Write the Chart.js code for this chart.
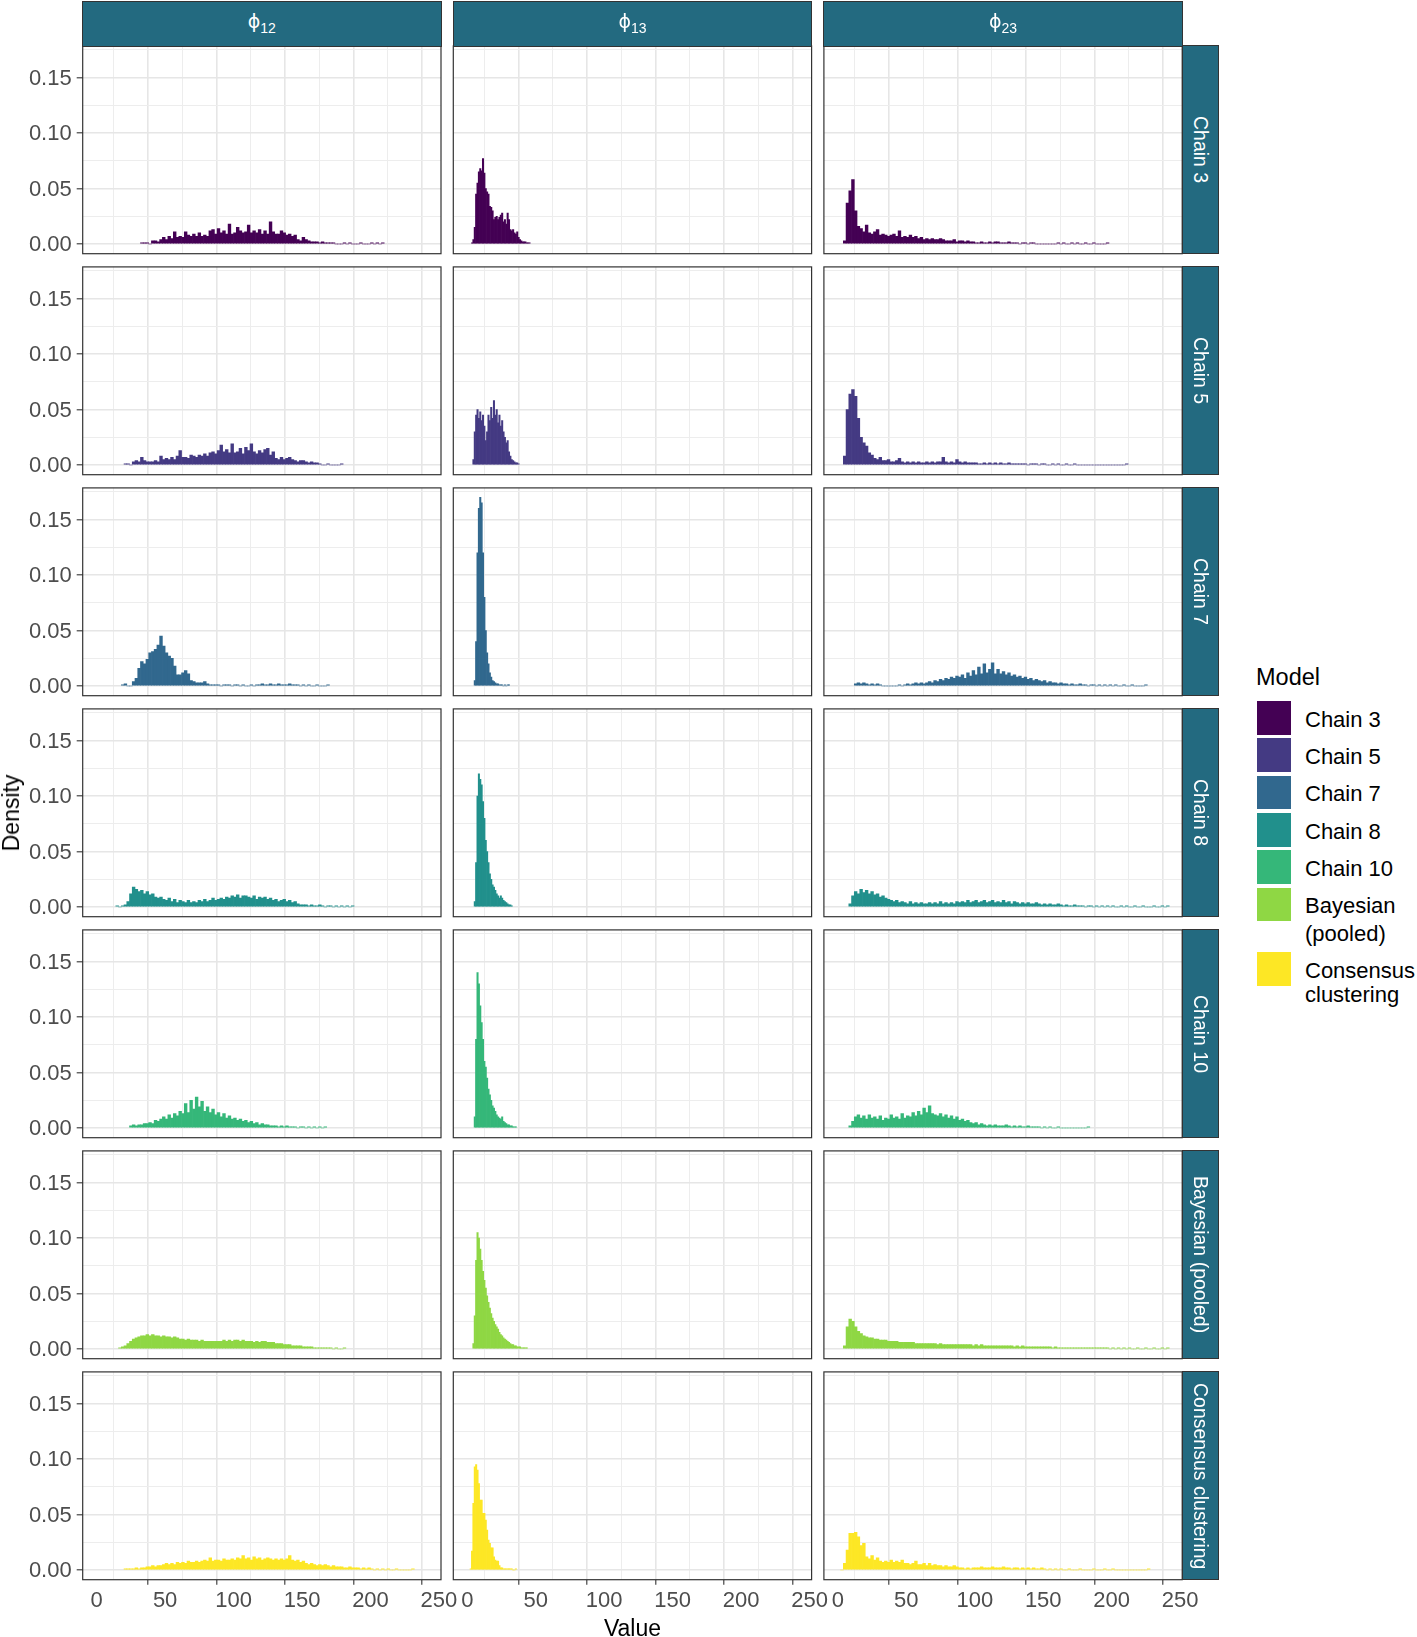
<!DOCTYPE html>
<html><head><meta charset="utf-8">
<script src="https://cdn.jsdelivr.net/npm/chart.js@4.4.1/dist/chart.umd.min.js"></script>
<style>
html,body{margin:0;padding:0;background:#fff;}
body{width:1417px;height:1637px;position:relative;overflow:hidden;font-family:"Liberation Sans",Arial,sans-serif;}
canvas{position:absolute;}
.strip{position:absolute;box-sizing:border-box;background:#236A80;border:1px solid #333;color:#fff;display:flex;align-items:center;justify-content:center;}
.stripTop .phi{font-family:"DejaVu Sans",sans-serif;font-size:19px;line-height:1;position:relative;top:-2px;}
.stripTop .sub{font-size:14px;position:relative;top:4px;margin-left:0px;}
.stripRight span{writing-mode:vertical-rl;font-size:19.5px;white-space:nowrap;}
.lab{position:absolute;white-space:nowrap;color:#000;}
.key{position:absolute;width:33.5px;height:33.5px;}
</style></head>
<body>
<script>
// ---------------- data ----------------
const models = ['Chain 3','Chain 5','Chain 7','Chain 8','Chain 10','Bayesian (pooled)','Consensus clustering'];
const legendLines = [['Chain 3'],['Chain 5'],['Chain 7'],['Chain 8'],['Chain 10'],['Bayesian','(pooled)'],['Consensus','clustering']];
const parameterSubscripts = ['12','13','23'];
const modelColors = ['#440154','#443A83','#31688E','#21908C','#35B779','#8FD744','#FDE725'];
const xMajorTicks = [0,50,100,150,200,250];
const xMinorTicks = [25,75,125,175,225];
const xTickLabels = ['0','50','100','150','200','250'];
const yMajorTicks = [0,0.05,0.10,0.15];
const yMinorTicks = [0.025,0.075,0.125,0.175];
const yTickLabels = ['0.00','0.05','0.10','0.15'];
// histogram bin width per parameter column (phi12, phi13, phi23)
const binWidth = [2,1,2];
// left edge of the first bin of every histogram [model][parameter]
const firstBin = [
  [32,3,4],[20,4,4],[18,5,12],[14,5,8],[24,5,8],[16,4,4],[20,2,2]
];
// densities per bin, in thousandths
const chain3Phi12 = [1,1,1,0,3,3,2,4,6,4,7,5,11,6,7,6,11,8,7,9,7,10,7,8,7,12,13,9,14,10,12,9,18,9,10,15,12,10,11,17,10,12,10,13,9,12,9,20,11,9,9,12,10,8,9,7,8,4,3,6,4,3,2,2,2,1,2,1,1,1,1,0,0,0,1,0,1,0,0,0,1,0,0,0,1,0,1,0,1];
const chain3Phi13 = [1,4,15,45,55,65,68,66,77,64,50,47,45,34,33,30,22,24,25,22,24,26,28,20,22,18,28,22,13,12,13,10,9,11,6,4,3,2,2,2,1,1,1];
const chain3Phi23 = [3,37,48,58,30,16,14,11,17,10,9,11,13,8,9,8,7,8,9,7,12,6,7,6,8,6,7,5,6,4,5,4,5,4,4,5,4,3,3,3,4,2,3,3,2,3,2,2,1,1,2,1,1,2,1,2,2,1,1,1,2,1,1,1,0,1,1,0,1,1,0,0,0,0,0,0,0,0,1,0,1,0,0,1,0,1,0,0,1,0,0,1,0,0,0,0,1];
const chain5Phi12 = [1,1,0,3,4,3,7,4,3,3,3,4,3,8,5,6,5,7,5,8,13,7,7,6,9,8,7,9,8,10,8,11,12,10,13,18,12,14,11,19,11,12,15,10,16,13,19,12,10,13,11,14,15,9,12,6,5,7,5,6,7,5,4,3,4,4,3,2,3,2,2,1,0,0,1,0,0,0,0,1];
const chain5Phi13 = [5,30,45,50,42,48,40,45,35,22,30,45,40,52,42,58,45,50,38,45,35,40,30,25,20,22,12,8,5,4,3,2,2,1];
const chain5Phi23 = [8,50,64,68,62,42,25,20,17,11,9,6,5,7,4,4,5,3,3,4,6,3,2,3,2,3,2,3,2,2,3,2,3,2,3,3,7,3,2,3,2,5,3,2,3,2,2,2,2,1,1,2,1,2,1,2,1,2,1,1,2,1,1,1,1,1,1,0,1,1,1,0,1,1,0,0,1,0,1,0,0,1,0,0,1,0,0,0,0,0,0,0,0,0,0,0,0,0,0,0,0,0,0,1];
const chain7Phi12 = [1,2,0,0,4,7,16,22,20,24,30,31,33,37,45,36,30,27,25,18,10,10,12,14,11,5,4,3,3,3,4,2,1,1,1,1,0,1,1,1,0,1,1,0,1,0,0,1,0,1,1,2,1,1,2,1,1,2,1,1,1,2,1,1,1,0,1,0,1,0,0,1,0,0,0,1];
const chain7Phi13 = [5,40,120,160,170,165,120,80,50,30,20,12,8,5,4,3,2,2,1,1,1,0,1,0,1,1];
const chain7Phi23 = [2,3,2,3,2,1,2,1,2,1,0,0,0,0,0,0,1,0,1,2,1,2,3,2,3,2,3,4,3,5,4,6,5,7,6,8,7,9,8,10,7,12,9,14,10,17,11,20,12,15,21,11,15,11,13,10,12,9,10,8,9,7,8,6,7,5,6,5,4,5,3,4,3,3,2,3,2,2,1,2,1,1,2,1,1,0,1,1,0,1,0,1,0,1,0,1,0,0,1,0,0,1,0,0,0,0,1];
const chain8Phi12 = [1,0,1,2,5,12,18,16,14,15,12,14,11,12,9,8,9,7,6,8,5,7,4,6,5,4,6,4,5,4,6,5,7,5,6,8,6,7,8,7,9,8,10,9,11,8,10,10,9,8,10,7,9,8,9,7,8,6,7,5,6,7,5,6,4,5,3,2,2,2,1,2,1,1,2,1,0,1,1,0,1,0,1,0,1,0,1];
const chain8Phi13 = [5,40,100,120,115,110,95,80,60,50,40,30,25,20,18,15,12,10,8,10,8,6,5,4,3,2,2,1];
const chain8Phi23 = [3,10,14,12,16,13,15,12,14,11,12,9,10,8,7,6,5,6,4,5,4,3,5,3,4,3,4,3,3,4,3,4,3,5,3,4,3,4,3,5,4,5,4,6,4,5,6,4,5,6,4,5,6,4,5,4,6,4,5,3,5,4,3,4,3,4,3,3,4,3,2,3,2,3,2,2,3,2,1,2,1,1,2,1,1,1,0,1,1,0,1,0,1,0,1,0,1,0,0,1,0,1,0,0,1,0,0,1,0,0,0,1,0,0,1,0,1];
const chain10Phi12 = [2,3,2,3,3,4,4,5,4,7,6,8,10,8,12,9,13,11,15,13,22,14,25,17,28,19,24,15,19,14,17,12,14,10,13,9,11,8,9,7,8,6,7,5,6,4,5,3,4,3,3,2,2,2,1,2,1,2,1,1,1,0,1,1,0,1,0,1,0,1,0,1];
const chain10Phi13 = [10,80,140,130,110,95,80,60,55,45,35,30,25,20,18,15,12,10,9,8,10,6,5,4,3,3,2,2,1,1,1];
const chain10Phi23 = [2,6,10,12,9,11,8,12,9,10,8,11,7,9,8,12,9,10,8,13,9,11,10,14,11,15,12,18,14,20,13,12,11,13,10,12,9,11,8,10,7,8,6,7,5,4,5,3,4,3,2,3,2,3,2,2,2,3,2,1,2,1,2,1,1,2,1,1,1,1,0,1,0,1,0,0,1,0,0,0,0,0,0,0,0,0,0,1];
const bayesPhi12 = [1,2,3,5,7,9,10,11,12,12,13,12,13,12,12,11,12,11,11,10,11,10,9,9,8,9,8,8,8,7,8,7,7,7,7,7,7,7,8,7,8,7,8,8,7,8,7,7,7,6,7,6,7,7,6,6,6,5,5,5,4,4,4,3,3,3,3,2,2,2,2,1,1,1,1,1,1,1,0,1,0,0,1];
const bayesPhi13 = [5,30,80,105,100,90,80,70,62,55,48,42,37,32,28,25,22,20,18,15,13,12,10,9,8,7,6,5,4,4,3,3,2,2,2,1,1,1,1,1];
const bayesPhi23 = [3,20,27,25,20,16,14,12,11,10,10,9,9,8,8,8,7,7,7,7,6,6,6,6,6,6,5,5,5,5,5,5,5,5,4,5,4,4,4,4,4,4,4,4,4,4,4,3,4,3,4,3,3,3,3,3,3,3,3,3,3,3,2,3,2,3,2,2,2,2,2,2,2,2,2,2,1,2,1,1,1,1,1,1,1,1,1,1,1,1,1,1,1,1,1,1,1,0,1,0,1,0,1,0,1,0,0,1,0,0,1,0,0,1,0,0,1,0,1];
const consensusPhi12 = [1,1,1,1,2,1,2,2,3,3,4,3,4,4,5,6,5,6,5,7,6,7,6,8,7,7,8,7,8,9,8,11,8,9,9,8,10,9,9,10,9,11,10,13,10,11,9,12,10,11,9,10,11,10,9,10,9,10,9,10,13,9,8,9,7,8,6,5,6,5,4,5,4,5,4,3,4,3,3,3,2,2,3,2,2,2,1,2,1,2,1,0,1,0,1,0,1,0,0,1,0,0,0,0,0,1];
const consensusPhi13 = [1,17,60,93,95,90,78,63,63,51,51,45,36,27,24,20,20,12,9,8,8,4,2,2,1,1,1,1,1,1,1,0,0,1];
const consensusPhi23 = [0,6,18,33,33,34,30,22,24,12,10,13,9,11,8,7,8,7,9,7,8,7,9,6,6,5,6,8,5,5,6,4,6,4,5,4,4,3,4,3,3,4,3,2,2,1,2,1,2,2,2,3,2,2,2,3,2,2,2,3,2,2,1,2,2,1,2,1,2,1,2,1,1,2,1,0,1,0,1,0,1,0,0,1,0,0,0,1,0,0,0,0,1,0,0,0,1,0,0,1,0,0,0,0,0,0,0,0,0,0,0,0,1];

const histograms = [
  [chain3Phi12, chain3Phi13, chain3Phi23],
  [chain5Phi12, chain5Phi13, chain5Phi23],
  [chain7Phi12, chain7Phi13, chain7Phi23],
  [chain8Phi12, chain8Phi13, chain8Phi23],
  [chain10Phi12, chain10Phi13, chain10Phi23],
  [bayesPhi12, bayesPhi13, bayesPhi23],
  [consensusPhi12, consensusPhi13, consensusPhi23]
];
const DENSITY_UNIT = 0.001;

// ---------------- layout ----------------
const X_MIN = -10.2, X_MAX = 251.5;
const Y_MIN = -0.0087, Y_MAX = 0.1785;
const PX0 = 82.7, PDX = 370.6, PW = 358.3;
const PY0 = 45.9, PDY = 221.0, PH = 207.8;
const STRIP_R = 37.3;
const FONT = '"Liberation Sans", Arial, sans-serif';
Chart.defaults.font.family = FONT;

const panelBorder = {
  id: 'panelBorder',
  afterDraw(chart) {
    const {ctx, chartArea: a} = chart;
    ctx.save();
    ctx.strokeStyle = '#333333';
    ctx.lineWidth = 1.2;
    ctx.strokeRect(a.left, a.top, a.right - a.left, a.bottom - a.top);
    ctx.restore();
  }
};

function isMajor(list, ctx) {
  if (!ctx || !ctx.tick) return false;
  const v = ctx.tick.value;
  return list.some(m => Math.abs(m - v) < 1e-9);
}

function makePanel(r, c) {
  const L = PX0 + c * PDX, T = PY0 + r * PDY;
  const CL = Math.floor(L) - 95, CT = Math.floor(T) - 20;
  const CW = Math.ceil(L + PW - CL) + 45, CH = Math.ceil(T + PH - CT) + 60;
  const leftSpace = L - CL, rightSpace = CL + CW - (L + PW);
  const topSpace = T - CT, bottomSpace = CT + CH - (T + PH);
  const showY = c === 0, showX = r === models.length - 1;

  const cv = document.createElement('canvas');
  cv.width = CW; cv.height = CH;
  cv.style.left = CL + 'px'; cv.style.top = CT + 'px';
  cv.style.width = CW + 'px'; cv.style.height = CH + 'px';
  document.body.appendChild(cv);

  const vals = histograms[r][c];
  const w = binWidth[c], start = firstBin[r][c];
  const points = vals.map((d, i) => ({x: start + i * w + w / 2, y: d * DENSITY_UNIT}));

  const xTicks = xMajorTicks.concat(xMinorTicks).sort((a, b) => a - b);
  const yTicks = yMajorTicks.concat(yMinorTicks).sort((a, b) => a - b);

  try {
  new Chart(cv, {
    type: 'bar',
    data: {datasets: [{
      label: models[r], data: points, backgroundColor: modelColors[r],
      borderWidth: 0, barPercentage: 1, categoryPercentage: 1
    }]},
    options: {
      responsive: false, animation: false, devicePixelRatio: 1,
      events: [],
      layout: {padding: {left: showY ? 0 : leftSpace, right: rightSpace, top: topSpace, bottom: showX ? 0 : bottomSpace}},
      plugins: {legend: {display: false}, tooltip: {enabled: false}},
      scales: {
        x: {
          type: 'linear', min: X_MIN, max: X_MAX, offset: false,
          afterBuildTicks: s => { s.ticks = xTicks.map(v => ({value: v})); },
          afterFit: s => { s.height = showX ? bottomSpace : 0; s.paddingLeft = s.paddingRight = s.paddingTop = s.paddingBottom = 0; },
          border: {display: false},
          grid: {
            color: ctx => isMajor(xMajorTicks, ctx) ? '#E6E6E6' : '#EDEDED',
            lineWidth: ctx => isMajor(xMajorTicks, ctx) ? 1.6 : 1.0,
            drawTicks: showX, tickLength: 5,
            tickColor: ctx => isMajor(xMajorTicks, ctx) ? '#333333' : 'rgba(0,0,0,0)',
            tickWidth: 1.1
          },
          ticks: {
            display: showX, autoSkip: false, maxRotation: 0, minRotation: 0, padding: 3,
            color: '#4D4D4D', font: {size: 22, family: FONT},
            callback: v => { const i = xMajorTicks.findIndex(m => Math.abs(m - v) < 1e-9); return i >= 0 ? xTickLabels[i] : ''; }
          }
        },
        y: {
          type: 'linear', min: Y_MIN, max: Y_MAX,
          afterBuildTicks: s => { s.ticks = yTicks.map(v => ({value: v})); },
          afterFit: s => { s.width = showY ? leftSpace : 0; s.paddingLeft = s.paddingRight = s.paddingTop = s.paddingBottom = 0; },
          border: {display: false},
          grid: {
            color: ctx => isMajor(yMajorTicks, ctx) ? '#E6E6E6' : '#EDEDED',
            lineWidth: ctx => isMajor(yMajorTicks, ctx) ? 1.6 : 1.0,
            drawTicks: showY, tickLength: 6,
            tickColor: ctx => isMajor(yMajorTicks, ctx) ? '#333333' : 'rgba(0,0,0,0)',
            tickWidth: 1.1
          },
          ticks: {
            display: showY, autoSkip: false, padding: 5, labelOffset: 1,
            color: '#4D4D4D', font: {size: 22, family: FONT},
            callback: v => { const i = yMajorTicks.findIndex(m => Math.abs(m - v) < 1e-9); return i >= 0 ? yTickLabels[i] : ''; }
          }
        }
      }
    },
    plugins: [panelBorder]
  });
  } catch (e) { console.error(e); }
}

for (let r = 0; r < models.length; r++) for (let c = 0; c < 3; c++) makePanel(r, c);

// strips (facet labels)
for (let c = 0; c < 3; c++) {
  const d = document.createElement('div');
  d.className = 'strip stripTop';
  d.style.left = (PX0 + c * PDX - 0.6) + 'px';
  d.style.top = '0.5px';
  d.style.width = (PW + 1.2) + 'px';
  d.style.height = (PY0 - 0.5 + 0.6) + 'px';
  d.innerHTML = '<span class="phi">\u03D5</span><span class="sub">' + parameterSubscripts[c] + '</span>';
  document.body.appendChild(d);
}
for (let r = 0; r < models.length; r++) {
  const d = document.createElement('div');
  d.className = 'strip stripRight';
  d.style.left = (PX0 + 2 * PDX + PW - 0.6) + 'px';
  d.style.top = (PY0 + r * PDY - 0.6) + 'px';
  d.style.width = (STRIP_R + 0.6) + 'px';
  d.style.height = (PH + 1.2) + 'px';
  d.innerHTML = '<span>' + models[r] + '</span>';
  document.body.appendChild(d);
}

// axis titles
function addText(txt, css) {
  const d = document.createElement('div');
  d.className = 'lab';
  d.textContent = txt;
  Object.assign(d.style, css);
  document.body.appendChild(d);
  return d;
}
addText('Value', {left: (PX0 + (2 * PDX + PW) / 2) + 'px', top: '1615px', fontSize: '23px', transform: 'translateX(-50%)', lineHeight: '26px'});
addText('Density', {left: '11px', top: (PY0 + (6 * PDY + PH) / 2) + 'px', fontSize: '23px', transform: 'translate(-50%,-50%) rotate(-90deg)', lineHeight: '26px'});

// legend
addText('Model', {left: '1256px', top: '663px', fontSize: '23.5px', lineHeight: '28px'});
const keyTops = [701, 738.3, 775.7, 813, 850.3, 887.7, 952.3];
const legendLineGap = [0, 0, 0, 0, 0, 28, 24];
for (let i = 0; i < models.length; i++) {
  const k = document.createElement('div');
  k.className = 'key';
  k.style.left = '1257.3px'; k.style.top = keyTops[i] + 'px';
  k.style.background = modelColors[i];
  document.body.appendChild(k);
  legendLines[i].forEach((line, j) => {
    addText(line, {left: '1305px', top: (keyTops[i] + 5.5 + j * legendLineGap[i]) + 'px', fontSize: '22px', lineHeight: '26px'});
  });
}
</script>
</body></html>
